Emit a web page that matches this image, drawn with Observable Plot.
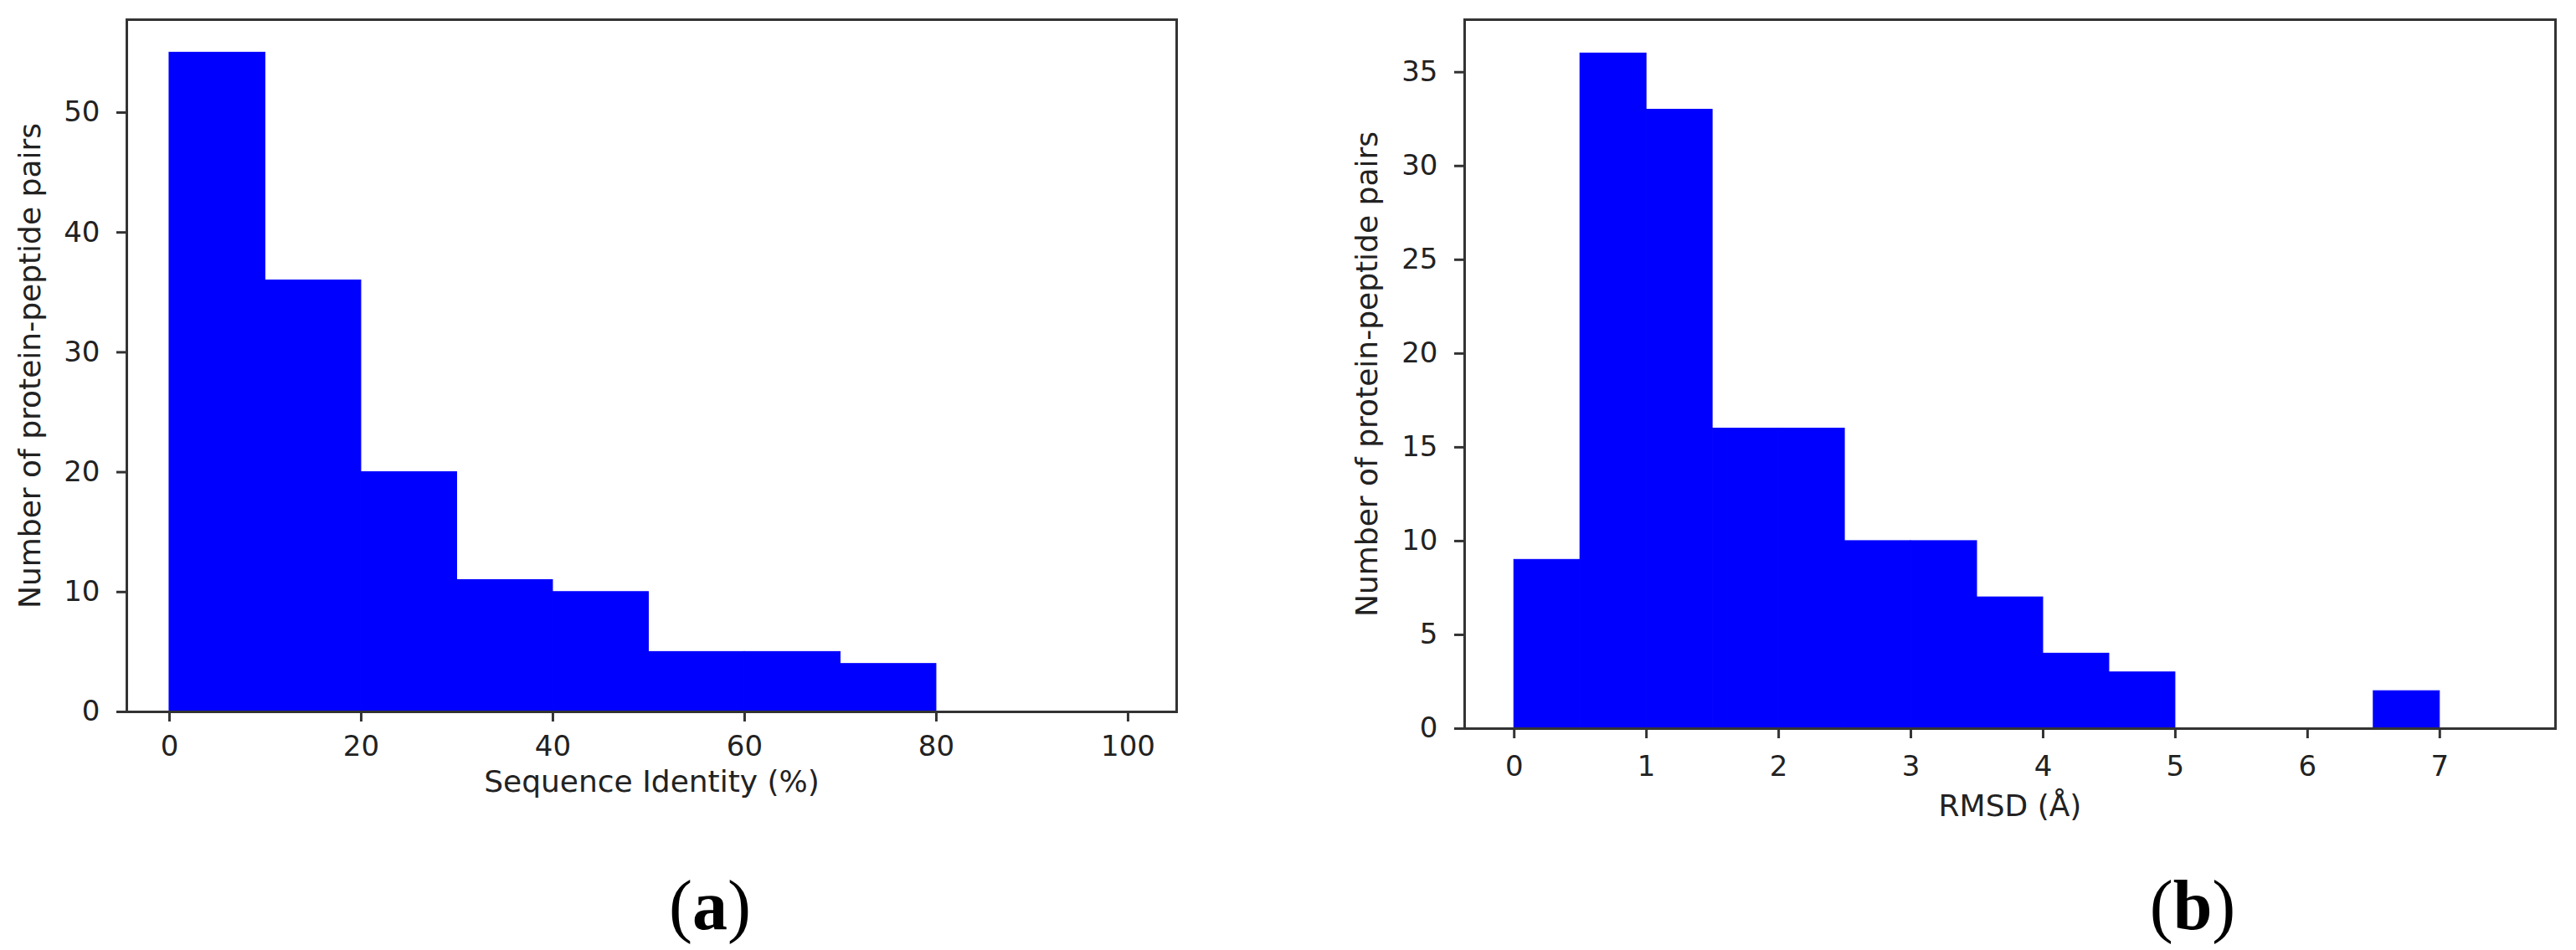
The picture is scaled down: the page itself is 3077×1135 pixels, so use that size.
<!DOCTYPE html>
<html>
<head>
<meta charset="utf-8">
<script src="https://cdn.jsdelivr.net/npm/d3@7"></script>
<script src="https://cdn.jsdelivr.net/npm/@observablehq/plot@0.6"></script>
<style>
  html, body { margin: 0; padding: 0; background: #fff; }
  #wrap { position: relative; width: 3077px; height: 1135px; overflow: hidden; background: #fff; }
  .panel { position: absolute; top: 0; }
  .cap { position: absolute; font-family: "Liberation Serif", serif; font-size: 84px; color: #000; line-height: 1; transform: translateX(-50%); white-space: nowrap; }
  .cap b { font-weight: bold; }
</style>
</head>
<body>
<div id="wrap">
  <div id="pa" class="panel" style="left:0px"></div>
  <div id="pb" class="panel" style="left:1540px"></div>
  <div class="cap" style="left:848px; top:1040px">(<b>a</b>)</div>
  <div class="cap" style="left:2619px; top:1040px">(<b>b</b>)</div>
</div>
<script>
// ---- Data ----
// Panel (a): sequence identity histogram, bins of 10 %
const identityBinLo = [0, 10, 20, 30, 40, 50, 60, 70, 80, 90];
const identityBinHi = [10, 20, 30, 40, 50, 60, 70, 80, 90, 100];
const identityCounts = [55, 36, 20, 11, 10, 5, 5, 4, 0, 0];
const identityTicks = [0, 20, 40, 60, 80, 100];
const countTicksA = [0, 10, 20, 30, 40, 50];

// Panel (b): RMSD histogram, bins of 0.5 Å
const rmsdBinLo = [0, 0.5, 1.0, 1.5, 2.0, 2.5, 3.0, 3.5, 4.0, 4.5, 5.0, 5.5, 6.0, 6.5, 7.0];
const rmsdBinHi = [0.5, 1.0, 1.5, 2.0, 2.5, 3.0, 3.5, 4.0, 4.5, 5.0, 5.5, 6.0, 6.5, 7.0, 7.5];
const rmsdCounts = [9, 36, 33, 16, 16, 10, 10, 7, 4, 3, 0, 0, 0, 2, 0];
const rmsdTicks = [0, 1, 2, 3, 4, 5, 6, 7];
const countTicksB = [0, 5, 10, 15, 20, 25, 30, 35];

const yLabel = "Number of protein-peptide pairs";
const xLabelA = "Sequence Identity (%)";
const xLabelB = "RMSD (Å)";

const barColor = "#0000ff";
const inkColor = "#333333";
const textColor = "#222222";
const font = "DejaVu Sans, sans-serif";

function bins(lo, hi, counts) {
  return lo.map((v, i) => ({lo: v, hi: hi[i], count: counts[i]})).filter(d => d.count > 0);
}

function histogram({data, xDomain, yDomain, xTicks, yTicks, xLabel, width, height, margins, xPad, xLabelDy, yLabelDx}) {
  return Plot.plot({
    width, height,
    marginLeft: margins[0], marginRight: margins[1], marginTop: margins[2], marginBottom: margins[3],
    style: {fontFamily: font, color: textColor, background: "white", overflow: "visible"},
    x: {domain: xDomain},
    y: {domain: yDomain},
    marks: [
      Plot.rectY(data, {x1: "lo", x2: "hi", y: "count", fill: barColor, stroke: barColor, strokeWidth: 1, inset: 0}),
      Plot.axisX(xTicks, {tickSize: 12, tickPadding: xPad, tickFormat: d => String(d), fontSize: 34, stroke: inkColor, strokeWidth: 3, fill: textColor, label: null}),
      Plot.axisY(yTicks, {tickSize: 12, tickPadding: 20, tickFormat: d => String(d), fontSize: 34, stroke: inkColor, strokeWidth: 3, fill: textColor, label: null}),
      Plot.frame({stroke: inkColor, strokeWidth: 3}),
      Plot.text([xLabel], {frameAnchor: "bottom", dy: xLabelDy, textAnchor: "middle", fontSize: 36, fill: textColor, fontFamily: font}),
      Plot.text([yLabel], {frameAnchor: "left", dx: yLabelDx, textAnchor: "middle", rotate: -90, fontSize: 36, fill: textColor, fontFamily: font})
    ]
  });
}

document.getElementById("pa").appendChild(histogram({
  data: bins(identityBinLo, identityBinHi, identityCounts),
  xDomain: [-4.45, 105.07], yDomain: [0, 57.75],
  xTicks: identityTicks, yTicks: countTicksA, xLabel: xLabelA,
  width: 1500, height: 1010, margins: [151, 95, 23, 160],
  xPad: 16, xLabelDy: 95, yLabelDx: -115
}));

document.getElementById("pb").appendChild(histogram({
  data: bins(rmsdBinLo, rmsdBinHi, rmsdCounts),
  xDomain: [-0.375, 7.875], yDomain: [0, 37.8],
  xTicks: rmsdTicks, yTicks: countTicksB, xLabel: xLabelB,
  width: 1537, height: 1010, margins: [209, 25, 23, 140],
  xPad: 20, xLabelDy: 104, yLabelDx: -116
}));
</script>
</body>
</html>
